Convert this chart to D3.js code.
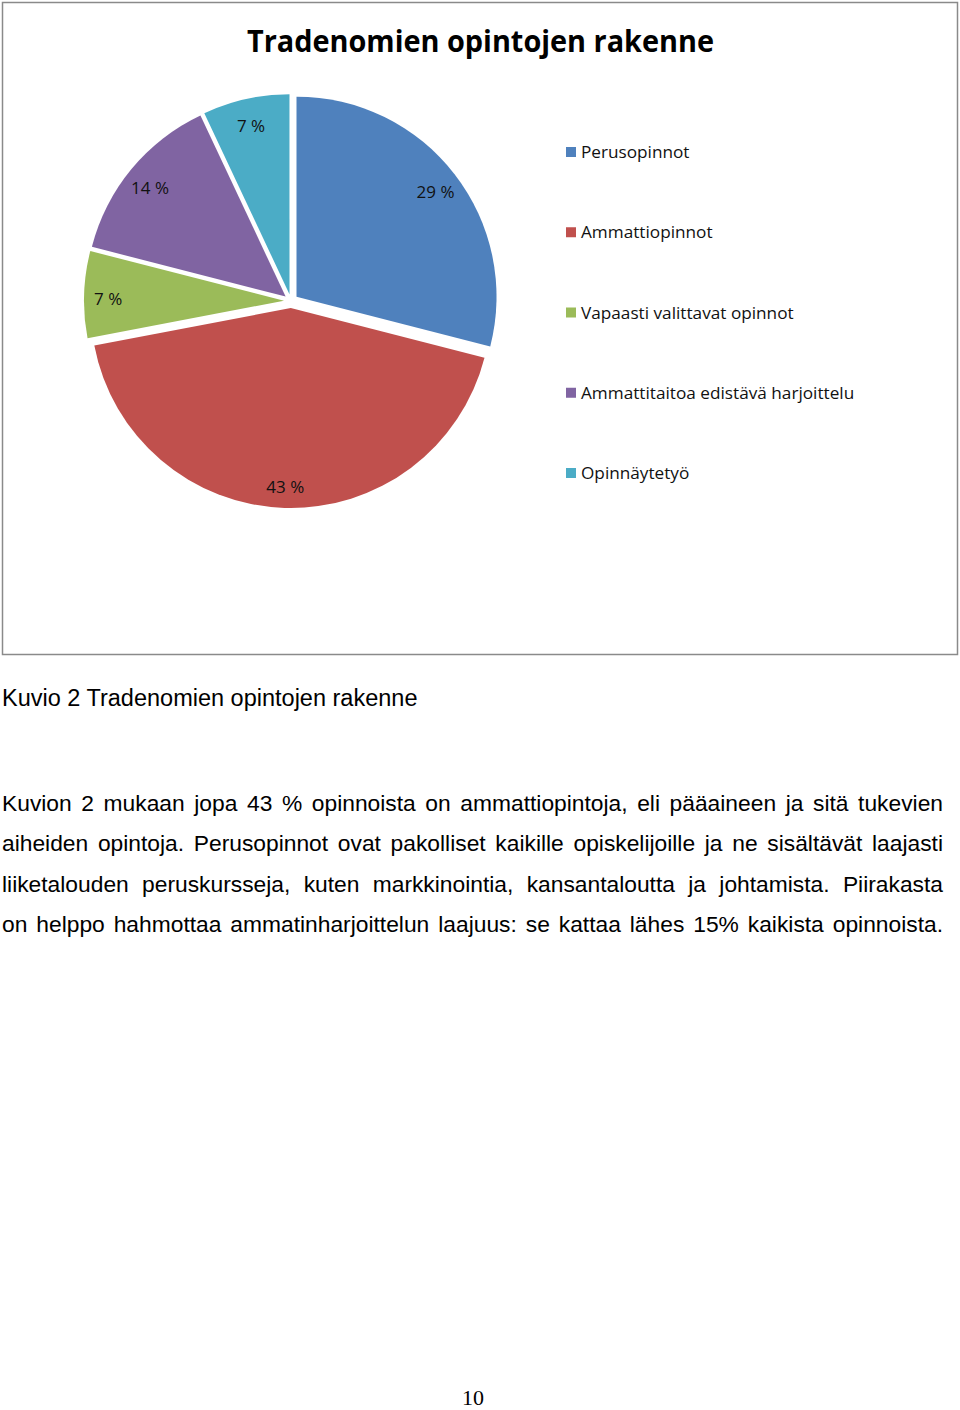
<!DOCTYPE html>
<html>
<head>
<meta charset="utf-8">
<script src="https://cdn.jsdelivr.net/npm/d3@7"></script>
<style>
  body { margin: 0; background: #fff; }
  svg { display: block; }
</style>
</head>
<body>
<div id="page"></div>
<script>
// chart data
const categories = ["Perusopinnot", "Ammattiopinnot", "Vapaasti valittavat opinnot",
                    "Ammattitaitoa edistävä harjoittelu", "Opinnäytetyö"];
const shares = [29, 43, 7, 14, 7];
const colors = ["#4F81BD", "#C0504D", "#9BBB59", "#8064A2", "#4BACC6"];
const chartTitle = "Tradenomien opintojen rakenne";

// text around the chart
const caption = "Kuvio 2 Tradenomien opintojen rakenne";
const paragraphLines = [
  "Kuvion 2 mukaan jopa 43 % opinnoista on ammattiopintoja, eli pääaineen ja sitä tukevien",
  "aiheiden opintoja. Perusopinnot ovat pakolliset kaikille opiskelijoille ja ne sisältävät laajasti",
  "liiketalouden peruskursseja, kuten markkinointia, kansantaloutta ja johtamista. Piirakasta",
  "on helppo hahmottaa ammatinharjoittelun laajuus: se kattaa lähes 15% kaikista opinnoista."
];
const pageNumber = "10";

const W = 960, H = 1410;
const svg = d3.select("#page").append("svg")
    .attr("width", W)
    .attr("height", H);

// chart frame
svg.append("rect")
    .attr("x", 2.5).attr("y", 2.5)
    .attr("width", 955).attr("height", 652)
    .attr("fill", "#fff")
    .attr("stroke", "#8a8a8a")
    .attr("stroke-width", 1.5);

svg.append("text")
    .attr("x", 480.5).attr("y", 52)
    .attr("text-anchor", "middle")
    .attr("font-family", "'Open Sans', sans-serif")
    .attr("font-weight", "bold")
    .attr("font-size", 30)
    .attr("textLength", 467)
    .attr("lengthAdjust", "spacingAndGlyphs")
    .attr("fill", "#000")
    .text(chartTitle);

// pie
const cx = 291, cy = 301, radius = 200, explode = 7, labelR = 176;
const pie = d3.pie().sort(null).value(d => d);
const arcs = pie(shares);
const arc = d3.arc().innerRadius(0).outerRadius(radius);
const mid = d => (d.startAngle + d.endAngle) / 2;

const pieG = svg.append("g").attr("transform", `translate(${cx},${cy})`);

const slices = pieG.selectAll("g.slice")
    .data(arcs)
    .join("g")
    .attr("class", "slice")
    .attr("transform", d => `translate(${Math.sin(mid(d)) * explode},${-Math.cos(mid(d)) * explode})`);

slices.append("path")
    .attr("d", arc)
    .attr("fill", (d, i) => colors[i]);

slices.append("text")
    .attr("x", d => Math.sin(mid(d)) * labelR)
    .attr("y", d => -Math.cos(mid(d)) * labelR)
    .attr("dy", "0.55em")
    .attr("text-anchor", "middle")
    .attr("font-family", "'Open Sans', sans-serif")
    .attr("font-size", 17)
    .attr("fill", "#111")
    .text(d => `${d.data} %`);

// legend
const ly = d3.scaleLinear().domain([0, categories.length - 1]).range([152, 473]);
const legend = svg.append("g")
    .selectAll("g")
    .data(categories)
    .join("g")
    .attr("transform", (d, i) => `translate(566,${ly(i)})`);
legend.append("rect")
    .attr("x", 0).attr("y", -5)
    .attr("width", 10).attr("height", 10)
    .attr("fill", (d, i) => colors[i]);
legend.append("text")
    .attr("x", 15).attr("dy", "0.36em")
    .attr("font-family", "'Open Sans', sans-serif")
    .attr("font-size", 17.2)
    .attr("fill", "#111")
    .text(d => d);

// caption under the chart
svg.append("text")
    .attr("x", 2).attr("y", 706)
    .attr("font-family", "'Liberation Sans', Arial, sans-serif")
    .attr("font-size", 23.5)
    .attr("fill", "#000")
    .text(caption);

// justified paragraph: stretch word spacing so lines fill the width
const textW = 941;
paragraphLines.forEach((line, i) => {
    const t = svg.append("text")
        .attr("x", 2).attr("y", 811 + i * 40.3)
        .attr("font-family", "'Liberation Sans', Arial, sans-serif")
        .attr("font-size", 22.8)
        .attr("fill", "#000")
        .text(line);
    const natural = t.node().getComputedTextLength();
    const gaps = line.split(" ").length - 1;
    const ws = (textW - natural) / gaps;
    if (ws >= 0) {
        t.attr("word-spacing", ws);
    } else {
        t.attr("textLength", textW).attr("lengthAdjust", "spacingAndGlyphs");
    }
});

svg.append("text")
    .attr("x", 473).attr("y", 1405)
    .attr("text-anchor", "middle")
    .attr("font-family", "'Liberation Serif', 'Times New Roman', serif")
    .attr("font-size", 22)
    .attr("fill", "#000")
    .text(pageNumber);
</script>
</body>
</html>
